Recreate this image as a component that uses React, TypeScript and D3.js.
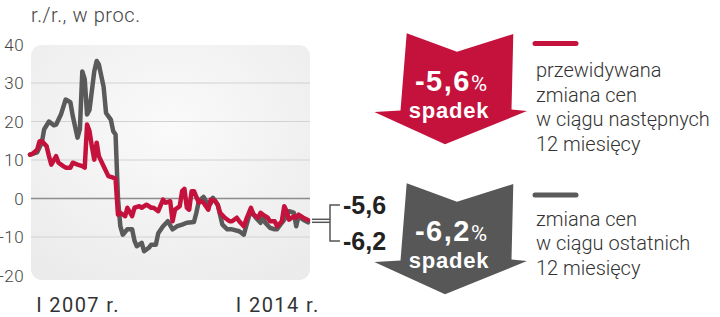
import React from 'react';
import * as d3 from 'd3';

const yTicks = [40, 30, 20, 10, 0, -10, -20];
const gridValues = [30, 20, 10, -10];
const xTickDates = ['2007-01', '2014-01'];
const xTickLabels = ['I 2007 r.', 'I 2014 r.'];

const grayDates = ['2006-10','2007-01','2007-03','2007-04','2007-06','2007-08','2007-09','2007-11','2008-01','2008-03','2008-04','2008-06','2008-07','2008-08','2008-09','2008-10','2008-11','2009-01','2009-02','2009-03','2009-05','2009-06','2009-08','2009-09','2009-10','2009-11','2009-12','2010-01','2010-03','2010-05','2010-06','2010-07','2010-09','2010-10','2010-12','2011-01','2011-03','2011-04','2011-06','2011-08','2011-10','2011-12','2012-02','2012-04','2012-07','2012-08','2012-09','2012-11','2012-12','2013-02','2013-03','2013-05','2013-07','2013-09','2013-11','2014-02','2014-04','2014-05','2014-07','2014-09','2014-11','2014-12','2015-01','2015-03','2015-05','2015-06','2015-08','2015-09','2015-11','2016-01','2016-02','2016-03','2016-05','2016-07'];
const grayValues = [11.4,12,14.5,18,20,19,19.2,21.8,25.7,25,21.4,15.8,18,33,31,21.8,23,33,35.7,34.8,29,22.2,20.5,17.5,16.6,0,-7.2,-9.4,-8,-8,-11,-12.4,-11.5,-13.7,-12.8,-12,-12,-9,-7.2,-5.9,-8,-7.2,-6.8,-6.3,-6.1,-3.7,-0.7,0.4,-0.7,-1.3,0.2,-1.6,-6.8,-8,-8,-8.5,-9.4,-7.2,-2.9,-5,-6.3,-4.6,-6.3,-7.6,-8,-8,-6.3,-5.5,-3.3,-3.7,-7.2,-4.6,-5.5,-6.2];

const redDates = ['2006-10','2006-11','2007-01','2007-02','2007-03','2007-05','2007-06','2007-07','2007-09','2007-10','2007-12','2008-01','2008-03','2008-04','2008-06','2008-08','2008-09','2008-10','2008-11','2008-12','2009-01','2009-02','2009-03','2009-05','2009-06','2009-07','2009-09','2009-10','2009-11','2009-12','2010-02','2010-03','2010-05','2010-06','2010-08','2010-09','2010-11','2011-01','2011-02','2011-04','2011-06','2011-07','2011-09','2011-10','2011-11','2012-01','2012-02','2012-03','2012-04','2012-05','2012-06','2012-07','2012-09','2012-10','2012-11','2013-01','2013-02','2013-04','2013-05','2013-06','2013-08','2013-10','2013-11','2014-01','2014-02','2014-04','2014-05','2014-07','2014-08','2014-10','2014-11','2015-01','2015-02','2015-03','2015-05','2015-06','2015-08','2015-09','2015-10','2015-11','2016-01','2016-02','2016-03','2016-05','2016-07'];
const redValues = [11.4,11.6,12.7,14.9,14.9,13.6,11,8.8,11,9.3,8.4,8,8,9.3,8.8,8.4,8,19.2,17.5,13.6,10.1,14.5,11,8.4,7.1,5.8,5.4,5.1,-4.2,-3.7,-4.6,-2.4,-4.6,-2.4,-2,-2.4,-1.6,-2.4,-2.4,-3.3,-0.3,-1.1,-0.7,-5.9,-2.9,-2,1.9,2.5,-2.4,-2.9,1.9,1.9,-1.1,-0.7,-1.1,-2.9,-0.3,-0.7,-1.6,-3.7,-5,-5.9,-5.9,-5,-5.9,-7.2,-5.5,-2.4,-4.2,-5,-3.7,-4.6,-5,-5.9,-5.9,-7.2,-5.9,-2,-3.3,-5.5,-4.6,-5,-4.2,-5,-5.6];

const endLabels = ['-5,6', '-6,2'];
const arrowValues = ['-5,6', '-6,2'];
const arrowWord = 'spadek';
const redLegend = ['przewidywana', 'zmiana cen', 'w ciągu następnych', '12 miesięcy'];
const grayLegend = ['zmiana cen', 'w ciągu ostatnich', '12 miesięcy'];
const unitLabel = 'r./r., w proc.';

const RED = '#c5123d';
const GRAY = '#5a5a5a';
const ARROW_GRAY = '#575757';
const LIGHT = "Roboto, 'Noto Sans', sans-serif";
const BOLD = "'Liberation Sans', Arial, sans-serif";

const parse = d3.timeParse('%Y-%m');

export default function App() {
  const x = d3.scaleTime()
    .domain([parse('2006-10') as Date, parse('2016-07') as Date])
    .range([30, 308]);
  const y = d3.scaleLinear().domain([-20, 40]).range([275.5, 44.5]);

  const line = d3.line<[Date, number]>()
    .x((d) => x(d[0]))
    .y((d) => y(d[1]))
    .curve(d3.curveLinear);

  const grayData: [Date, number][] = grayDates.map((d, i) => [parse(d) as Date, grayValues[i]]);
  const redData: [Date, number][] = redDates.map((d, i) => [parse(d) as Date, redValues[i]]);

  const arrowPath = (dy: number) => {
    const pts: [number, number][] = [
      [406.7, 33.3], [457, 51.7], [513.3, 34], [511.5, 109.5], [527, 111],
      [445, 144.3], [374.3, 112], [400.5, 110.5],
    ];
    return 'M' + pts.map((p) => `${p[0]},${p[1] + dy}`).join('L') + 'Z';
  };

  const xEnd = x(parse('2016-07') as Date);

  return (
    <svg width={720} height={317} style={{ position: 'absolute', left: 0, top: 0 }}>
      <defs>
        <radialGradient id="bg" cx="50%" cy="35%" r="75%">
          <stop offset="0%" stopColor="#fafafa" />
          <stop offset="100%" stopColor="#ebebeb" />
        </radialGradient>
      </defs>
      <rect x={0} y={0} width={720} height={317} fill="#ffffff" />
      <text x={31} y={22} fontFamily={LIGHT} fontWeight={300} fontSize={20} letterSpacing={0.6} fill="#444">{unitLabel}</text>

      <rect x={31} y={45} width={279} height={235} rx={11} fill="url(#bg)" />
      {gridValues.map((v) => (
        <line key={v} x1={31} x2={310} y1={y(v)} y2={y(v)} stroke="#d2d2d2" strokeWidth={1.2} />
      ))}
      <line x1={31} x2={310} y1={y(0)} y2={y(0)} stroke="#8c8c8c" strokeWidth={1.4} />

      {yTicks.map((v) => (
        <text key={v} x={24} y={y(v) + 6} textAnchor="end" fontFamily={LIGHT} fontWeight={300} fontSize={17} letterSpacing={0.4} fill="#444">{v}</text>
      ))}

      {xTickDates.map((d, i) => (
        <text key={d} x={x(parse(d) as Date) - 1} y={312} fontFamily={LIGHT} fontWeight={400} fontSize={20} letterSpacing={1.4} fill="#333">{xTickLabels[i]}</text>
      ))}

      <path d={line(grayData) || ''} fill="none" stroke={GRAY} strokeWidth={4.5} strokeLinejoin="round" strokeLinecap="round" />
      <path d={line(redData) || ''} fill="none" stroke={RED} strokeWidth={4.5} strokeLinejoin="round" strokeLinecap="round" />

      {/* connector */}
      <line x1={xEnd + 4} x2={330} y1={219.3} y2={219.3} stroke="#555" strokeWidth={1.5} />
      <line x1={xEnd + 4} x2={330} y1={222.3} y2={222.3} stroke="#555" strokeWidth={1.5} />
      <path d="M340,205H330V241H340" fill="none" stroke="#555" strokeWidth={1.5} />
      <text x={343} y={214} fontFamily={BOLD} fontWeight={700} fontSize={25} fill="#222">{endLabels[0]}</text>
      <text x={343} y={250} fontFamily={BOLD} fontWeight={700} fontSize={25} fill="#222">{endLabels[1]}</text>

      {/* arrows */}
      {[0, 1].map((k) => {
        const dy = k * 150;
        return (
          <g key={k}>
            <path d={arrowPath(dy)} fill={k === 0 ? RED : ARROW_GRAY} />
            <text x={451} y={91 + dy} textAnchor="middle" fill="#fff">
              <tspan fontFamily={BOLD} fontWeight={700} fontSize={29} letterSpacing={1.5}>{arrowValues[k]}</tspan>
              <tspan fontFamily={LIGHT} fontWeight={400} fontSize={22}>%</tspan>
            </text>
            <text x={449} y={117.5 + dy} textAnchor="middle" fontFamily={BOLD} fontWeight={700} fontSize={22} letterSpacing={0.8} fill="#fff">{arrowWord}</text>
          </g>
        );
      })}

      {/* legend */}
      <line x1={535} x2={576} y1={43.5} y2={43.5} stroke={RED} strokeWidth={5} strokeLinecap="round" />
      {redLegend.map((t, i) => (
        <text key={'r' + i} x={536} y={77 + i * 24.5} fontFamily={LIGHT} fontWeight={300} fontSize={20} fill="#333">{t}</text>
      ))}
      <line x1={535} x2={576} y1={195} y2={195} stroke={GRAY} strokeWidth={5} strokeLinecap="round" />
      {grayLegend.map((t, i) => (
        <text key={'g' + i} x={536} y={225.5 + i * 24.5} fontFamily={LIGHT} fontWeight={300} fontSize={20} fill="#333">{t}</text>
      ))}
    </svg>
  );
}
